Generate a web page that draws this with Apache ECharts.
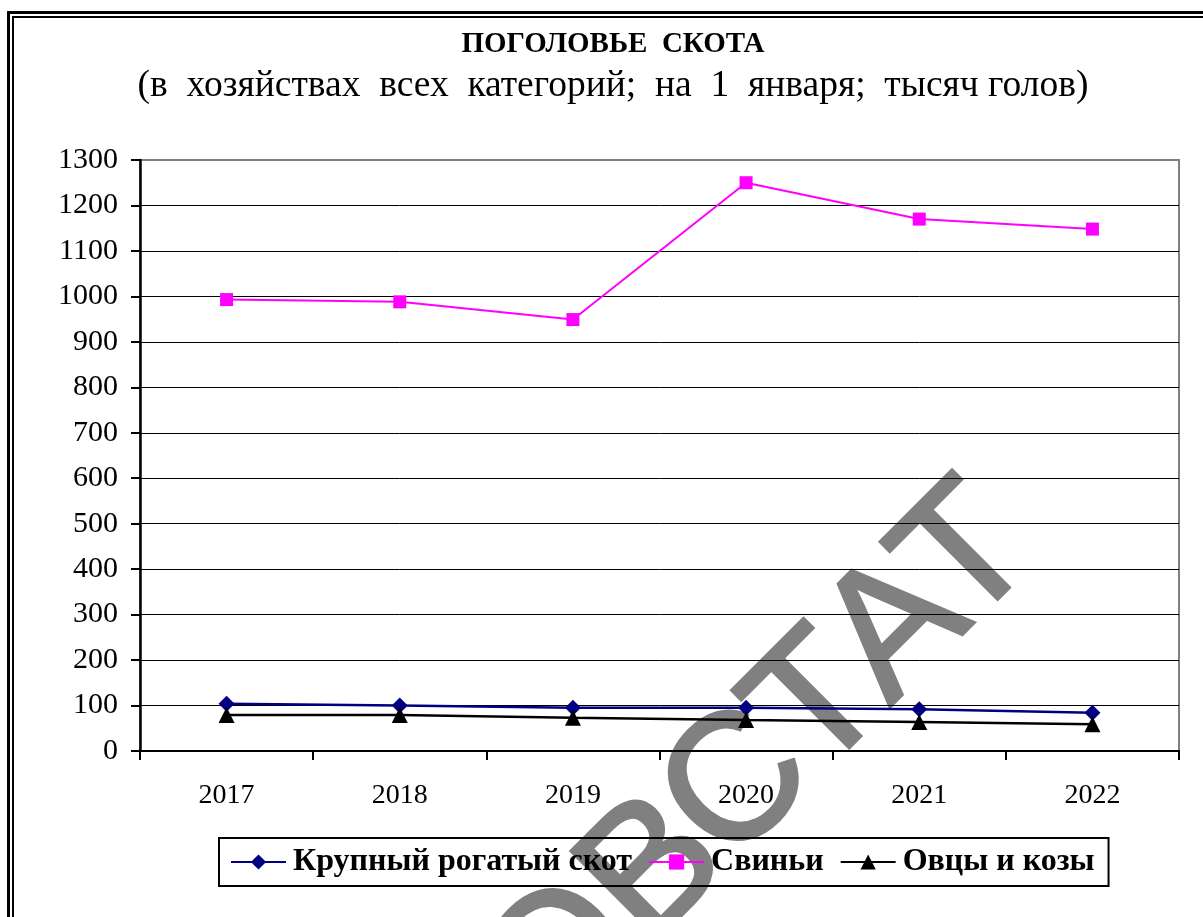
<!DOCTYPE html>
<html>
<head>
<meta charset="utf-8">
<script src="https://cdn.jsdelivr.net/npm/echarts@6/dist/echarts.min.js"></script>
<style>
  html, body { margin: 0; padding: 0; background: #fff; }
  #chart { width: 1203px; height: 917px; }
</style>
</head>
<body>
<div id="chart"></div>
<script>
// data (thousand heads, on 1 January)
const years = ['2017', '2018', '2019', '2020', '2021', '2022'];
const cattle = [104, 100, 95, 95, 92, 84];
const pigs = [993, 988, 949, 1250, 1170, 1148];
const sheepGoats = [79, 79, 73, 68, 64, 59];
const seriesNames = ['Крупный рогатый скот', 'Свиньи', 'Овцы и козы'];

const serif = '"Liberation Serif", "Times New Roman", serif';

const chart = echarts.init(document.getElementById('chart'));

// top gridline sits on the grey plot border, so colour it grey too
const gridColors = [];
for (let i = 0; i <= 13; i++) gridColors.push(i === 13 ? '#808080' : '#000');

const option = {
  backgroundColor: '#fff',
  animation: false,
  grid: {
    left: 140, top: 160, width: 1039, height: 591,
    show: true, borderColor: '#808080', borderWidth: 2
  },
  graphic: [
    // watermark, kept under everything else
    { type: 'text', x: 1071, y: 583, rotation: Math.PI / 4, z: -10,
      style: { text: 'ПСКОВСТАТ', font: '180px "Liberation Sans", Arial, sans-serif',
        fill: '#808080', stroke: '#808080', lineWidth: 3,
        textAlign: 'right', textVerticalAlign: 'bottom' } },
    // double frame
    { type: 'rect', shape: { x: 8.5, y: 12.5, width: 1300, height: 1000 },
      style: { fill: 'none', stroke: '#000', lineWidth: 3 }, z: 1 },
    { type: 'rect', shape: { x: 13, y: 17, width: 1300, height: 1000 },
      style: { fill: 'none', stroke: '#000', lineWidth: 2 }, z: 1 },
    { type: 'text', x: 613, y: 45, z: 5,
      style: { text: 'ПОГОЛОВЬЕ  СКОТА', font: 'bold 29px ' + serif, fill: '#000',
        textAlign: 'center', textVerticalAlign: 'middle' } },
    { type: 'text', x: 613, y: 86, z: 5,
      style: { text: '(в  хозяйствах  всех  категорий;  на  1  января;  тысяч голов)',
        font: '37.5px ' + serif, fill: '#000', textAlign: 'center', textVerticalAlign: 'middle' } }
  ],
  legend: {
    left: 219, top: 838,
    padding: [8, 14, 8, 11],
    borderColor: '#000', borderWidth: 2,
    itemWidth: 55, itemHeight: 19, itemGap: 16,
    textStyle: { fontFamily: serif, fontWeight: 'bold', fontSize: 32, color: '#000', padding: [0, 0, 0, 2] },
    data: seriesNames
  },
  xAxis: {
    type: 'category',
    data: years,
    boundaryGap: true,
    axisLine: { lineStyle: { color: '#000', width: 2 } },
    axisTick: { show: true, length: 9, lineStyle: { color: '#000', width: 2 } },
    axisLabel: { fontFamily: serif, fontSize: 28, color: '#000', margin: 31 },
    splitLine: { show: false }
  },
  yAxis: {
    type: 'value',
    min: 0, max: 1300, interval: 100,
    axisLine: { show: true, lineStyle: { color: '#000', width: 2.5 } },
    axisTick: { show: true, length: 9, lineStyle: { color: '#000', width: 2 } },
    axisLabel: { fontFamily: serif, fontSize: 30, color: '#000', margin: 22,
      formatter: (v) => String(v) },
    splitLine: { show: true, lineStyle: { color: gridColors, width: 1 } }
  },
  series: [
    { name: seriesNames[0], type: 'line', data: cattle,
      symbol: 'diamond', symbolSize: 16,
      lineStyle: { color: '#000080', width: 2.5 }, itemStyle: { color: '#000080' } },
    { name: seriesNames[1], type: 'line', data: pigs,
      symbol: 'rect', symbolSize: 13,
      lineStyle: { color: '#ff00ff', width: 2 }, itemStyle: { color: '#ff00ff' } },
    { name: seriesNames[2], type: 'line', data: sheepGoats,
      symbol: 'triangle', symbolSize: 16,
      lineStyle: { color: '#000', width: 2.5 }, itemStyle: { color: '#000' } }
  ]
};

chart.setOption(option);
</script>
</body>
</html>
